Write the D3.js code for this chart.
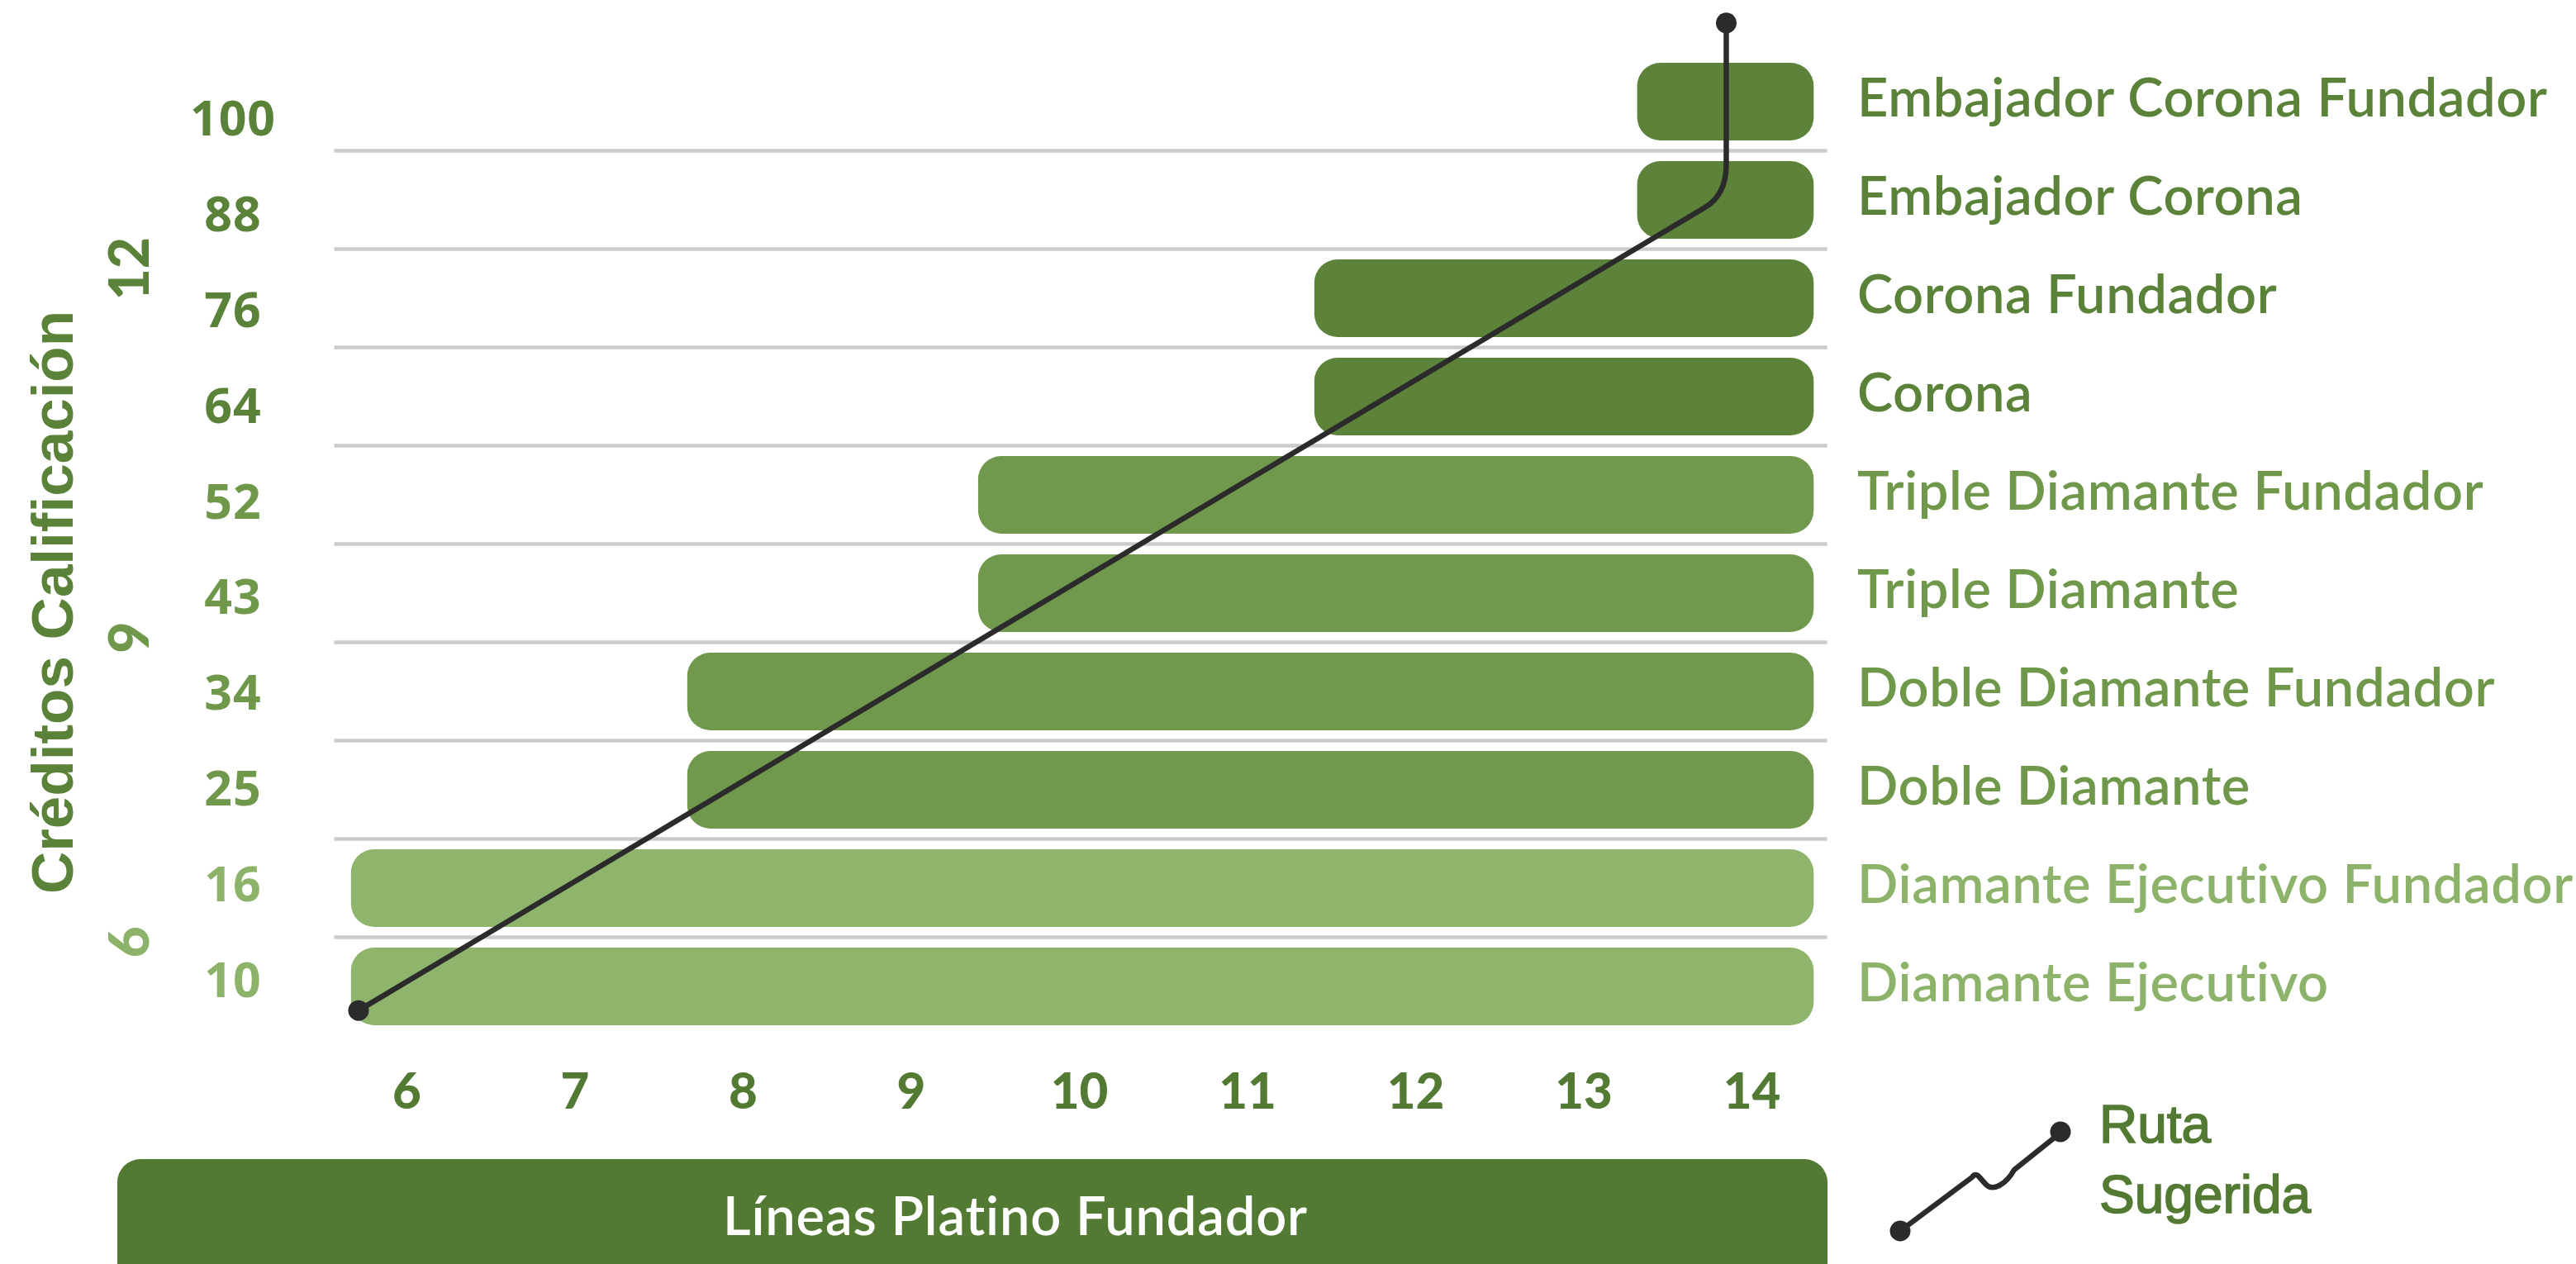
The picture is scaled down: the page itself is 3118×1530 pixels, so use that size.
<!DOCTYPE html>
<html>
<head>
<meta charset="utf-8">
<script src="https://cdn.jsdelivr.net/npm/d3@7"></script>
<style>
  html, body { margin: 0; padding: 0; background: #ffffff; }
  svg { display: block; }
</style>
</head>
<body>
<svg id="chart" width="3118" height="1530"></svg>
<script>
// ---------------- DATA ----------------
// levels from bottom (index 0) to top (index 9)
const levels = [
  "Diamante Ejecutivo",
  "Diamante Ejecutivo Fundador",
  "Doble Diamante",
  "Doble Diamante Fundador",
  "Triple Diamante",
  "Triple Diamante Fundador",
  "Corona",
  "Corona Fundador",
  "Embajador Corona",
  "Embajador Corona Fundador"
];
const credits = [10, 16, 25, 34, 43, 52, 64, 76, 88, 100];
// bar start / end on the "Líneas Platino Fundador" axis
const lineStart = [5.67, 5.67, 7.67, 7.67, 9.40, 9.40, 11.40, 11.40, 13.32, 13.32];
const lineEnd   = [14.37, 14.37, 14.37, 14.37, 14.37, 14.37, 14.37, 14.37, 14.37, 14.37];
const tier      = [0, 0, 1, 1, 1, 1, 2, 2, 2, 2];
const lineTicks = [6, 7, 8, 9, 10, 11, 12, 13, 14];
// group labels on the rotated inner axis (position in row units)
const groupLabels = ["6", "9", "12"];
const groupPos    = [0.45, 3.55, 7.3];
const groupTier   = [0, 1, 2];
// suggested route (x in lines, y in row units)
const routeX = [5.715, 13.72, 13.85, 13.85, 13.85];
const routeY = [-0.245, 7.92, 8.05, 8.36, 9.80];

const yTitle = "Créditos Calificación";
const xTitle = "Líneas Platino Fundador";
const legendLines = ["Ruta", "Sugerida"];

// ---------------- STYLE ----------------
const barColors  = ["#8fb46c", "#71994d", "#5c8339"];
const textColors = ["#8db36a", "#6f984b", "#5a8238"];
const axisGreen = "#537a32";
const futura = "'Lato', 'Noto Sans', sans-serif";

// ---------------- SCALES ----------------
const svg = d3.select("#chart");
const x = d3.scaleLinear().domain([6, 14]).range([492, 2120]);
const y = d3.scaleLinear().domain([0, 9]).range([1194, 123]);
const yCred = d3.scaleLinear().domain([0, 9]).range([1186, 143]);
const barH = 94;

svg.append("rect").attr("width", 3118).attr("height", 1530).attr("fill", "#fff");

// gridlines between rows
const gridRows = d3.range(0, levels.length - 1).map(i => i + 0.5);
svg.append("g").selectAll("line").data(gridRows).join("line")
  .attr("x1", x(5.57)).attr("x2", x(14.45))
  .attr("y1", d => y(d)).attr("y2", d => y(d))
  .attr("stroke", "#cbcbcb").attr("stroke-width", 4.5);

// bars
const rows = levels.map((name, i) => ({name, i, start: lineStart[i], end: lineEnd[i], tier: tier[i], credit: credits[i]}));
svg.append("g").selectAll("rect").data(rows).join("rect")
  .attr("x", d => x(d.start))
  .attr("width", d => x(d.end) - x(d.start))
  .attr("y", d => y(d.i) - barH / 2)
  .attr("height", barH)
  .attr("rx", 28).attr("ry", 28)
  .attr("fill", d => barColors[d.tier]);

// right labels
svg.append("g").selectAll("text").data(rows).join("text")
  .attr("x", 2248)
  .attr("y", d => y(d.i) + 18)
  .attr("font-family", futura)
  .attr("font-size", 65)
  .attr("font-weight", 600)
  .attr("letter-spacing", 0.6)
  .attr("fill", d => textColors[d.tier])
  .text(d => d.name);

// credit labels
svg.append("g").selectAll("text").data(rows).join("text")
  .attr("x", 282)
  .attr("y", d => yCred(d.i) + 21)
  .attr("text-anchor", "middle")
  .attr("font-family", "'Open Sans', sans-serif")
  .attr("font-size", 59)
  .attr("font-weight", 700)
  .attr("letter-spacing", 1)
  .attr("fill", d => textColors[d.tier])
  .text(d => d.credit);

// group labels (rotated)
svg.append("g").selectAll("text").data(groupLabels).join("text")
  .attr("transform", (d, k) => `translate(180,${y(groupPos[k])}) rotate(-90)`)
  .attr("text-anchor", "middle")
  .attr("font-family", futura)
  .attr("font-size", 66)
  .attr("font-weight", 900)
  .attr("fill", (d, k) => textColors[groupTier[k]])
  .text(d => d);

// y title
svg.append("text")
  .attr("transform", `translate(88,${729}) rotate(-90)`)
  .attr("text-anchor", "middle")
  .attr("font-family", "'Liberation Sans', Arial, sans-serif")
  .attr("font-size", 71)
  .attr("font-weight", 700)
  .attr("fill", textColors[2])
  .text(yTitle);

// x axis
const xAxis = d3.axisBottom(x).tickValues(lineTicks).tickSize(0).tickPadding(0);
const gx = svg.append("g").attr("transform", "translate(0,1298)").call(xAxis);
gx.select(".domain").remove();
gx.selectAll("text")
  .attr("dy", null).attr("y", 44)
  .attr("font-family", futura)
  .attr("font-size", 60)
  .attr("font-weight", 900)
  .attr("fill", axisGreen);

// x title box
svg.append("rect")
  .attr("x", 142).attr("y", 1403)
  .attr("width", 2070).attr("height", 170)
  .attr("rx", 28).attr("ry", 28)
  .attr("fill", axisGreen);
svg.append("text")
  .attr("x", 1229).attr("y", 1495)
  .attr("text-anchor", "middle")
  .attr("font-family", futura)
  .attr("font-size", 65)
  .attr("font-weight", 600)
  .attr("letter-spacing", 0.8)
  .attr("fill", "#ffffff")
  .text(xTitle);

// suggested route
const p = d3.path();
p.moveTo(x(routeX[0]), y(routeY[0]));
p.lineTo(x(routeX[1]), y(routeY[1]));
p.quadraticCurveTo(x(routeX[2]), y(routeY[2]), x(routeX[3]), y(routeY[3]));
p.lineTo(x(routeX[4]), y(routeY[4]));
svg.append("path").attr("d", p.toString())
  .attr("fill", "none").attr("stroke", "#2b2b2b").attr("stroke-width", 6.5);
svg.append("g").selectAll("circle").data([0, routeX.length - 1]).join("circle")
  .attr("cx", k => x(routeX[k])).attr("cy", k => y(routeY[k]))
  .attr("r", 12.5).attr("fill", "#2b2b2b");

// legend
const lg = svg.append("g").attr("transform", "translate(2300,1490)");
lg.append("path")
  .attr("d", "M0,0 L87,-65 Q91,-71 96,-65 L104,-56 Q110,-50 120,-55 Q130,-60 138,-74 L193,-118")
  .attr("fill", "none").attr("stroke", "#2b2b2b").attr("stroke-width", 6.5)
  .attr("stroke-linejoin", "round");
lg.append("circle").attr("cx", 0).attr("cy", 0).attr("r", 12.5).attr("fill", "#2b2b2b");
lg.append("circle").attr("cx", 194).attr("cy", -120).attr("r", 12.5).attr("fill", "#2b2b2b");
svg.append("g").selectAll("text").data(legendLines).join("text")
  .attr("x", 2541)
  .attr("y", (d, k) => 1383 + k * 85)
  .attr("font-family", "'Liberation Sans', Arial, sans-serif")
  .attr("font-size", 64)
  .attr("font-weight", 400)
  .attr("stroke", axisGreen).attr("stroke-width", 1.6)
  .attr("fill", axisGreen)
  .text(d => d);
</script>
</body>
</html>
